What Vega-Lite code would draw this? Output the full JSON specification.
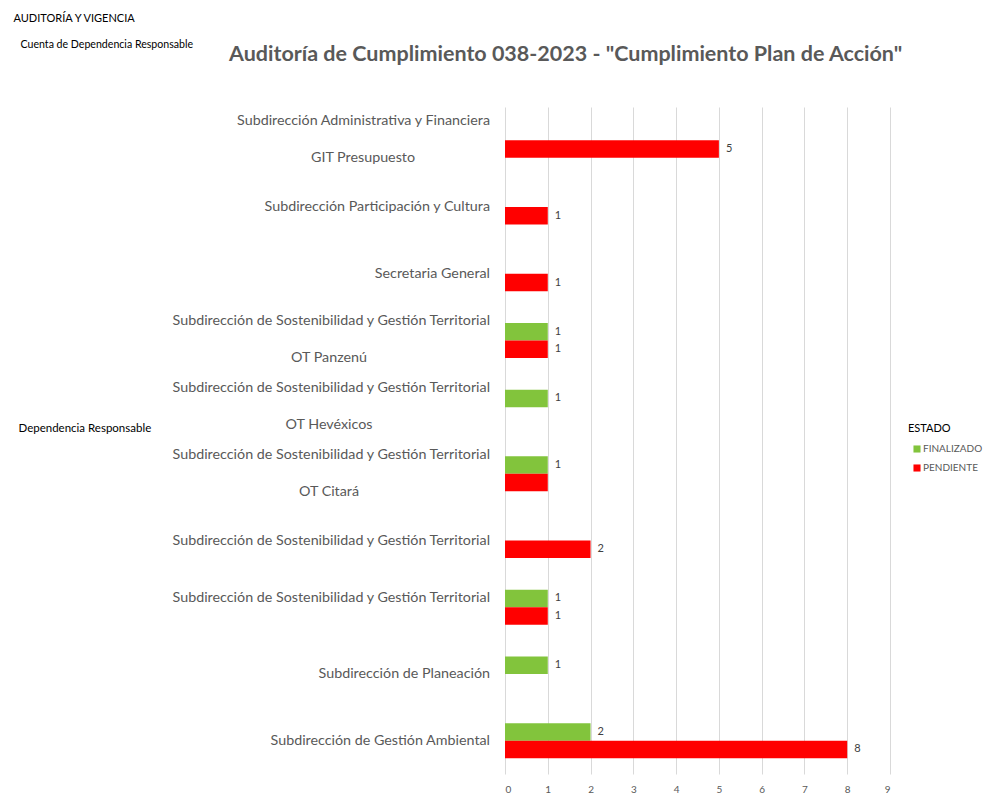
{
  "$schema": "https://vega.github.io/schema/vega-lite/v6.json",
  "autosize": "none",
  "width": 385,
  "height": 667,
  "padding": {"left": 505, "top": 107, "right": 105, "bottom": 30},
  "background": "#ffffff",
  "config": {"font": "Lato", "view": {"stroke": null}},
  "title": {
    "text": "Auditoría de Cumplimiento 038-2023 -  \"Cumplimiento Plan de Acción\"",
    "frame": "group",
    "anchor": "start",
    "dx": -276,
    "offset": -64,
    "baseline": "middle",
    "fontSize": 21.5,
    "fontWeight": "bold",
    "color": "#595959"
  },
  "datasets": {
    "conteos": [
      {"grupo": 1, "estado": "PENDIENTE", "cantidad": 5},
      {"grupo": 2, "estado": "PENDIENTE", "cantidad": 1},
      {"grupo": 3, "estado": "PENDIENTE", "cantidad": 1},
      {"grupo": 4, "estado": "FINALIZADO", "cantidad": 1},
      {"grupo": 4, "estado": "PENDIENTE", "cantidad": 1},
      {"grupo": 5, "estado": "FINALIZADO", "cantidad": 1},
      {"grupo": 6, "estado": "FINALIZADO", "cantidad": 1},
      {"grupo": 6, "estado": "PENDIENTE", "cantidad": 1},
      {"grupo": 7, "estado": "PENDIENTE", "cantidad": 2},
      {"grupo": 8, "estado": "FINALIZADO", "cantidad": 1},
      {"grupo": 8, "estado": "PENDIENTE", "cantidad": 1},
      {"grupo": 9, "estado": "FINALIZADO", "cantidad": 1},
      {"grupo": 10, "estado": "FINALIZADO", "cantidad": 2},
      {"grupo": 10, "estado": "PENDIENTE", "cantidad": 8}
    ],
    "grupos": [
      {"grupo": 1, "dependencia": "Subdirección Administrativa y Financiera", "oficina": "GIT Presupuesto"},
      {"grupo": 2, "dependencia": "Subdirección Participación y Cultura", "oficina": ""},
      {"grupo": 3, "dependencia": "Secretaria General", "oficina": ""},
      {"grupo": 4, "dependencia": "Subdirección de Sostenibilidad y Gestión Territorial", "oficina": "OT Panzenú"},
      {"grupo": 5, "dependencia": "Subdirección de Sostenibilidad y Gestión Territorial", "oficina": "OT Hevéxicos"},
      {"grupo": 6, "dependencia": "Subdirección de Sostenibilidad y Gestión Territorial", "oficina": "OT Citará"},
      {"grupo": 7, "dependencia": "Subdirección de Sostenibilidad y Gestión Territorial", "oficina": ""},
      {"grupo": 8, "dependencia": "Subdirección de Sostenibilidad y Gestión Territorial", "oficina": ""},
      {"grupo": 9, "dependencia": "Subdirección de Planeación", "oficina": ""},
      {"grupo": 10, "dependencia": "Subdirección de Gestión Ambiental", "oficina": ""}
    ]
  },
  "resolve": {"axis": {"x": "independent", "y": "independent"}},
  "layer": [
    {
      "data": {"name": "conteos"},
      "mark": {"type": "bar"},
      "encoding": {
        "y": {
          "field": "grupo", "type": "ordinal",
          "scale": {"domain": [1, 2, 3, 4, 5, 6, 7, 8, 9, 10], "paddingInner": 0.475, "paddingOuter": 0.2375},
          "axis": {
            "title": "Dependencia Responsable", "labels": false, "ticks": false, "domain": false, "grid": false,
            "titleAngle": 0, "titleX": -487, "titleY": 321, "titleAlign": "left", "titleBaseline": "middle",
            "titleFontSize": 11.5, "titleFontWeight": "normal", "titleColor": "#000000"
          }
        },
        "yOffset": {
          "field": "estado", "type": "nominal",
          "scale": {"domain": ["FINALIZADO", "PENDIENTE"], "paddingInner": 0, "paddingOuter": 0}
        },
        "x": {
          "field": "cantidad", "type": "quantitative",
          "scale": {"domain": [0, 9], "nice": false},
          "axis": {
            "values": [0, 1, 2, 3, 4, 5, 6, 7, 8, 9], "grid": true, "gridColor": "#D9D9D9", "ticks": false, "domain": false,
            "labelPadding": 10, "labelFontSize": 10, "labelColor": "#595959",
            "title": "Cuenta de Dependencia Responsable", "titleX": -485, "titleY": -730,
            "titleAlign": "left", "titleBaseline": "middle", "titleFontSize": 10.6, "titleFontWeight": "normal", "titleColor": "#000000"
          }
        },
        "color": {
          "field": "estado", "type": "nominal",
          "scale": {"domain": ["FINALIZADO", "PENDIENTE"], "range": ["#82C43C", "#FF0000"]},
          "legend": {
            "orient": "none", "legendX": 403, "legendY": 316, "title": "ESTADO",
            "titleFontSize": 11, "titleFontWeight": "normal", "titleColor": "#000000", "titlePadding": 10,
            "labelFontSize": 10, "labelColor": "#595959", "symbolType": "square", "symbolSize": 50,
            "symbolStrokeWidth": 0, "rowPadding": 9, "symbolOffset": 4, "labelOffset": 1, "padding": 0
          }
        }
      }
    },
    {
      "data": {"name": "conteos"},
      "transform": [{"filter": "!(datum.grupo == 6 && datum.estado == 'PENDIENTE')"}],
      "mark": {"type": "text", "align": "left", "baseline": "middle", "dx": 7, "fontSize": 11, "color": "#404040"},
      "encoding": {
        "y": {"field": "grupo", "type": "ordinal", "axis": null},
        "yOffset": {"field": "estado", "type": "nominal"},
        "x": {"field": "cantidad", "type": "quantitative", "axis": null},
        "text": {"field": "cantidad", "type": "quantitative"}
      }
    },
    {
      "data": {"name": "grupos"},
      "transform": [{"filter": "datum.oficina != ''"}],
      "mark": {"type": "text", "align": "right", "baseline": "middle", "dx": -15, "dy": -19, "fontSize": 14.3, "color": "#595959"},
      "encoding": {
        "y": {"field": "grupo", "type": "ordinal", "axis": null},
        "x": {
          "datum": 0, "type": "quantitative",
          "axis": {
            "orient": "top", "title": "AUDITORÍA Y VIGENCIA", "labels": false, "ticks": false, "domain": false, "grid": false,
            "titleX": -492, "titleY": -89, "titleAlign": "left", "titleBaseline": "middle",
            "titleFontSize": 11, "titleFontWeight": "normal", "titleColor": "#000000"
          }
        },
        "text": {"field": "dependencia"}
      }
    },
    {
      "data": {"name": "grupos"},
      "transform": [{"filter": "datum.oficina == '' && datum.grupo != 8"}],
      "mark": {"type": "text", "align": "right", "baseline": "middle", "dx": -15, "fontSize": 14.3, "color": "#595959"},
      "encoding": {
        "y": {"field": "grupo", "type": "ordinal", "axis": null},
        "x": {"datum": 0, "type": "quantitative", "axis": null},
        "text": {"field": "dependencia"}
      }
    },
    {
      "data": {"name": "grupos"},
      "transform": [{"filter": "datum.grupo == 8"}],
      "mark": {"type": "text", "align": "right", "baseline": "middle", "dx": -15, "dy": -9.5, "fontSize": 14.3, "color": "#595959"},
      "encoding": {
        "y": {"field": "grupo", "type": "ordinal", "axis": null},
        "x": {"datum": 0, "type": "quantitative", "axis": null},
        "text": {"field": "dependencia"}
      }
    },
    {
      "data": {"name": "grupos"},
      "transform": [{"filter": "datum.grupo == 1"}],
      "mark": {"type": "text", "align": "center", "baseline": "middle", "dx": -142, "dy": 18, "fontSize": 14.3, "color": "#595959"},
      "encoding": {
        "y": {"field": "grupo", "type": "ordinal", "axis": null},
        "x": {"datum": 0, "type": "quantitative", "axis": null},
        "text": {"field": "oficina"}
      }
    },
    {
      "data": {"name": "grupos"},
      "transform": [{"filter": "datum.oficina != '' && datum.grupo != 1"}],
      "mark": {"type": "text", "align": "center", "baseline": "middle", "dx": -176, "dy": 18, "fontSize": 14.3, "color": "#595959"},
      "encoding": {
        "y": {"field": "grupo", "type": "ordinal", "axis": null},
        "x": {"datum": 0, "type": "quantitative", "axis": null},
        "text": {"field": "oficina"}
      }
    }
  ]
}
